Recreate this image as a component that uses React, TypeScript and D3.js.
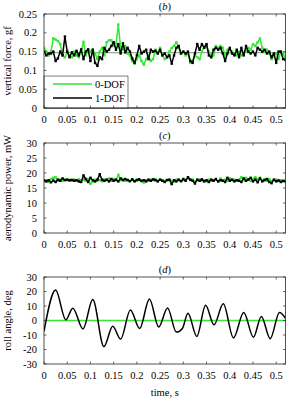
import * as d3 from 'd3'

// sample times, one per 0.005 s from 0 to 0.52 s
const sampleStep = 0.005
const times = d3.range(0, 105).map(i => +(i * sampleStep).toFixed(3))

// (b) vertical force, gf
const forceZeroDof = [
  0.160, 0.150, 0.140, 0.150, 0.185, 0.182, 0.178, 0.170, 0.140, 0.135,
  0.150, 0.140, 0.135, 0.150, 0.140, 0.135, 0.150, 0.176, 0.140, 0.155,
  0.150, 0.155, 0.145, 0.130, 0.150, 0.160, 0.140, 0.175, 0.180, 0.180,
  0.165, 0.170, 0.222, 0.160, 0.155, 0.165, 0.145, 0.140, 0.125, 0.118,
  0.130, 0.140, 0.125, 0.115, 0.130, 0.140, 0.125, 0.130, 0.155, 0.145,
  0.160, 0.140, 0.130, 0.135, 0.150, 0.160, 0.165, 0.175, 0.160, 0.145,
  0.150, 0.140, 0.145, 0.120, 0.125, 0.140, 0.135, 0.130, 0.150, 0.165,
  0.165, 0.150, 0.135, 0.140, 0.165, 0.160, 0.165, 0.160, 0.140, 0.155,
  0.155, 0.150, 0.145, 0.140, 0.150, 0.140, 0.145, 0.150, 0.160, 0.155,
  0.170, 0.165, 0.175, 0.185, 0.160, 0.150, 0.155, 0.145, 0.130, 0.140,
  0.145, 0.130, 0.150, 0.145, 0.130,
]
const forceOneDof = [
  0.150, 0.140, 0.145, 0.145, 0.150, 0.125, 0.132, 0.150, 0.140, 0.190,
  0.150, 0.135, 0.148, 0.140, 0.152, 0.140, 0.156, 0.130, 0.150, 0.156,
  0.125, 0.155, 0.120, 0.112, 0.135, 0.130, 0.160, 0.150, 0.155, 0.165,
  0.175, 0.155, 0.170, 0.145, 0.172, 0.148, 0.160, 0.150, 0.132, 0.120,
  0.140, 0.165, 0.145, 0.150, 0.155, 0.130, 0.155, 0.150, 0.152, 0.145,
  0.155, 0.140, 0.145, 0.135, 0.140, 0.118, 0.140, 0.160, 0.165, 0.145,
  0.150, 0.145, 0.150, 0.125, 0.120, 0.145, 0.170, 0.155, 0.170, 0.160,
  0.170, 0.140, 0.135, 0.155, 0.160, 0.155, 0.160, 0.145, 0.125, 0.145,
  0.160, 0.145, 0.140, 0.155, 0.135, 0.160, 0.140, 0.165, 0.150, 0.145,
  0.150, 0.140, 0.160, 0.155, 0.150, 0.155, 0.145, 0.150, 0.135, 0.145,
  0.120, 0.150, 0.150, 0.130, 0.128,
]
const forceMean = 0.147

// (c) aerodynamic power, mW
const powerZeroDof = [
  17.2, 17.6, 17.0, 18.0, 18.4, 18.6, 17.4, 17.8, 17.4, 17.8,
  17.6, 17.8, 17.4, 17.8, 17.5, 17.9, 17.6, 17.8, 17.4, 18.0,
  16.4, 17.2, 17.8, 17.4, 17.6, 17.2, 17.8, 17.6, 18.2, 17.4,
  18.0, 17.6, 19.4, 17.6, 18.0, 17.4, 17.8, 17.2, 17.8, 17.4,
  18.0, 17.6, 17.2, 16.8, 17.6, 17.4, 17.8, 17.6, 18.0, 17.4,
  17.8, 17.6, 17.4, 17.8, 17.6, 17.4, 17.2, 17.8, 17.6, 17.2,
  17.6, 17.8, 18.2, 17.6, 17.8, 17.2, 17.6, 17.8, 17.4, 17.6,
  17.2, 17.8, 17.4, 17.6, 17.8, 17.2, 18.2, 17.6, 17.8, 17.4,
  18.2, 17.6, 17.8, 17.6, 17.8, 18.6, 17.6, 18.4, 17.8, 17.4,
  18.0, 18.6, 17.8, 18.4, 17.6, 18.0, 17.4, 18.0, 17.2, 17.6,
  17.8, 17.4, 17.6, 17.2, 17.4,
]
const powerOneDof = [
  17.6, 17.2, 17.6, 16.9, 17.5, 17.0, 17.8, 17.4, 18.2, 17.6,
  17.8, 17.5, 17.7, 17.4, 17.6, 17.2, 17.0, 19.2, 18.0, 17.0,
  18.4, 17.6, 17.2, 17.8, 19.6, 17.8, 17.4, 17.8, 17.2, 18.0,
  17.4, 17.8, 17.2, 18.2, 17.6, 18.0, 17.6, 17.3, 17.9, 17.2,
  17.6, 17.9, 17.4, 17.6, 17.2, 17.8, 17.4, 17.9, 17.6, 17.2,
  17.8, 17.4, 17.0, 17.6, 17.8, 16.3, 17.6, 17.2, 17.8, 17.3,
  18.0, 17.4, 18.6, 17.8, 17.4, 16.5, 17.8, 17.4, 17.9, 17.2,
  17.6, 17.0, 17.8, 17.4, 18.0, 17.2, 17.6, 17.4, 17.0, 18.4,
  17.4, 17.8, 17.2, 17.6, 17.4, 17.0, 18.2, 17.4, 17.8, 18.4,
  17.2, 17.8, 16.9, 18.2, 17.2, 17.6, 18.0, 17.0, 16.6, 17.8,
  17.2, 17.5, 17.0, 17.4, 17.2,
]

// (d) roll angle, deg (turning points of the 1-DOF trace)
const rollTimes = [
  0, 0.025, 0.047, 0.062, 0.084, 0.105, 0.129, 0.148, 0.165, 0.186,
  0.206, 0.227, 0.247, 0.266, 0.285, 0.298, 0.31, 0.329, 0.348, 0.366,
  0.386, 0.408, 0.43, 0.451, 0.468, 0.487, 0.507, 0.52,
]
const rollOneDof = [
  -7.5, 21, 0.5, 8.5, -5.8, 14.5, -18, -4, -12.8, 7.2,
  -5.5, 14.8, -4.5, 8.6, -8, -5.5, 5, -11, 10.5, -3,
  11.5, -12, 5.5, -11.5, 2.8, -12.5, 5.5, 1.5,
]
const rollZeroDof = [0, 0]
const rollZeroTimes = [0, 0.52]

const xTicks = d3.range(0, 11).map(i => +(i * 0.05).toFixed(2))
const forceTicks = [0, 0.05, 0.1, 0.15, 0.2, 0.25]
const powerTicks = [0, 5, 10, 15, 20, 25, 30]
const rollTicks = [-30, -20, -10, 0, 10, 20, 30]

const GREEN = '#35e635'
const AXIS = '#262626'
const FONT = '"Liberation Serif", "DejaVu Serif", serif'

const left = 44
const right = 285.5
const x = d3.scaleLinear().domain([0, 0.52]).range([left, right])

type Series = { t: number[]; v: number[]; color: string; dots?: boolean; curve?: d3.CurveFactory }

function Panel(props: {
  top: number
  bottom: number
  domain: [number, number]
  ticks: number[]
  letter: string
  label: string
  series: Series[]
  children?: any
  extra?: (y: d3.ScaleLinear<number, number>) => any
}) {
  const { top, bottom, domain, ticks, letter, label, series } = props
  const y = d3.scaleLinear().domain(domain).range([bottom, top])
  const tl = 2.5
  return (
    <g>
      <defs>
        <clipPath id={`clip-${letter}`}>
          <rect x={left} y={top} width={right - left} height={bottom - top} />
        </clipPath>
      </defs>
      <text x={(left + right) / 2} y={top - 4} textAnchor="middle" fontSize={10.5} fontFamily={FONT}>
        (<tspan fontStyle="italic">{letter}</tspan>)
      </text>
      {props.extra && props.extra(y)}
      <g clipPath={`url(#clip-${letter})`}>
        {series.map((s, i) => {
          const pts = s.t.map((t, j) => [t, s.v[j]] as [number, number])
          const line = d3.line<[number, number]>()
            .x(d => x(d[0]))
            .y(d => y(d[1]))
            .curve(s.curve || d3.curveLinear)
          return (
            <g key={i}>
              <path d={line(pts) || ''} fill="none" stroke={s.color} strokeWidth={1.5} strokeLinejoin="round" />
              {s.dots && pts.map((p, j) => (
                <rect key={j} x={x(p[0]) - 1.2} y={y(p[1]) - 1.2} width={2.4} height={2.4} fill={s.color} />
              ))}
            </g>
          )
        })}
      </g>
      {props.children}
      <rect x={left} y={top} width={right - left} height={bottom - top} fill="none" stroke={AXIS} strokeWidth={0.8} />
      {xTicks.map(t => (
        <g key={t}>
          <line x1={x(t)} x2={x(t)} y1={bottom} y2={bottom - tl} stroke={AXIS} strokeWidth={0.7} />
          <line x1={x(t)} x2={x(t)} y1={top} y2={top + tl} stroke={AXIS} strokeWidth={0.7} />
          <text x={x(t)} y={bottom + 15} textAnchor="middle" fontSize={10.5} fontFamily={FONT}>{String(t)}</text>
        </g>
      ))}
      {ticks.map(t => (
        <g key={t}>
          <line x1={left} x2={left + tl} y1={y(t)} y2={y(t)} stroke={AXIS} strokeWidth={0.7} />
          <line x1={right} x2={right - tl} y1={y(t)} y2={y(t)} stroke={AXIS} strokeWidth={0.7} />
          <text x={37} y={y(t) + 3.5} textAnchor="end" fontSize={10.5} fontFamily={FONT}>{String(t)}</text>
        </g>
      ))}
      <text
        transform={`translate(11, ${(top + bottom) / 2}) rotate(-90)`}
        textAnchor="middle"
        fontSize={10.5}
        fontFamily={FONT}
      >
        {label}
      </text>
    </g>
  )
}

export default function App() {
  const forceY = d3.scaleLinear().domain([0, 0.25]).range([108, 14])
  return (
    <svg width={286} height={399} style={{ position: 'absolute', left: 0, top: 0, background: '#fff' }}>
      <Panel
        top={14}
        bottom={108}
        domain={[0, 0.25]}
        ticks={forceTicks}
        letter="b"
        label="vertical force, gf"
        series={[
          { t: times, v: forceZeroDof, color: GREEN, dots: true },
          { t: times, v: forceOneDof, color: '#000', dots: true },
        ]}
        extra={y => (
          <g>
            <line x1={left} x2={right} y1={y(forceMean)} y2={y(forceMean)} stroke="#3d6b3d" strokeWidth={0.7} />
            <line x1={left} x2={right} y1={y(0)} y2={y(0)} stroke="#999" strokeWidth={2} />
          </g>
        )}
      >
        <g>
          <rect x={left} y={forceY(0.085)} width={84} height={forceY(0) - forceY(0.085)} fill="#fff" stroke={AXIS} strokeWidth={0.6} />
          <line x1={53} x2={92} y1={84} y2={84} stroke={GREEN} strokeWidth={1.5} />
          <text x={95} y={87.5} fontSize={10.5} fontFamily={FONT}>0-DOF</text>
          <line x1={53} x2={92} y1={98} y2={98} stroke="#000" strokeWidth={1.5} />
          <text x={95} y={101.5} fontSize={10.5} fontFamily={FONT}>1-DOF</text>
        </g>
      </Panel>
      <Panel
        top={143}
        bottom={233}
        domain={[0, 30]}
        ticks={powerTicks}
        letter="c"
        label="aerodynamic power, mW"
        series={[
          { t: times, v: powerZeroDof, color: GREEN, dots: true },
          { t: times, v: powerOneDof, color: '#000', dots: true },
        ]}
      />
      <Panel
        top={277}
        bottom={364}
        domain={[-30, 30]}
        ticks={rollTicks}
        letter="d"
        label="roll angle, deg"
        series={[
          { t: rollZeroTimes, v: rollZeroDof, color: GREEN },
          { t: rollTimes, v: rollOneDof, color: '#000', curve: d3.curveMonotoneX },
        ]}
      />
      <text x={(left + right) / 2} y={396} textAnchor="middle" fontSize={10.5} fontFamily={FONT}>time, s</text>
    </svg>
  )
}
